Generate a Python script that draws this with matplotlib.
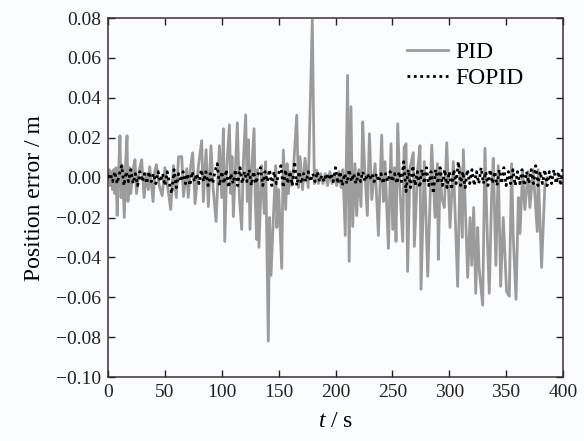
import numpy as np
import matplotlib
matplotlib.use("Agg")
import matplotlib.pyplot as plt

# ---- PID position error (time s, error m) ----
pid_t = [0, 1, 2, 3, 4, 5, 6, 7, 8, 9.5, 10.5, 11.5, 12.5, 14.3, 15.5, 16.7, 17.5, 19, 20,
         22, 23.7, 25, 27.5, 29.6, 31.7, 33.5, 35.4, 36.6, 39.6, 41, 42.5, 45, 47.6, 50, 52.5, 55.1,
         57.5, 60, 62, 64.8, 66.3, 69.2, 70.5, 72.5, 74.4, 76.5, 79.5, 82.3, 83.8, 86.2, 88.2, 90.5,
         92.5, 95, 97.9, 100, 101.4, 102.6, 104.5, 106.7, 108, 109, 110.2, 112, 113.7, 115.5, 117.5,
         119, 121, 122.5, 123.5, 124.8, 126.5, 128.4, 129.5, 130.7, 131.5, 132.7, 135.1, 137.4, 138.6,
         140.9, 142, 143.3, 145.3, 147.4, 148.4, 150, 152.7, 154.1, 156.2, 157.4, 158.5, 160, 161.4,
         163, 165.9, 167.4, 168.8, 171, 173.2, 176, 179.6, 181.4, 183.4, 185, 187, 189, 191, 193, 195,
         197, 199, 201, 203, 205, 206.5, 208.6, 210.6, 212, 213.6, 215.1, 217.1, 218.6, 220.5, 222.4,
         223.9, 225.5, 228, 229.8, 231.9, 234.8, 237.7, 240.6, 242.1, 243.5, 246.5, 248.8, 250.3,
         251.8, 253.2, 254.7, 256.5, 259.1, 260.3, 262, 263.4, 265.5, 268.4, 269.3, 272.2, 274.3,
         275.2, 278.1, 281.1, 284.6, 287.5, 289.6, 290.4, 292, 293.4, 295.7, 297.8, 300.7, 303.6,
         307.4, 309.5, 311.5, 312.4, 316.2, 318.3, 319.8, 321.5, 323.3, 325, 326.2, 329.4, 331.4,
         333.5, 335.2, 337.2, 338.7, 341, 343.1, 345.2, 347.5, 350.4, 352.8, 354.8, 356.3, 358.7,
         360.8, 362.2, 364.5, 366.5, 369.4, 370.9, 373.8, 377.4, 378.2, 381.2, 384, 386]
pid_e = [0.000, 0.004, -0.004, 0.003, -0.006, 0.004, -0.008, 0.005, -0.019, 0.006, 0.021, -0.010, 0.006, -0.020, 0.008, 0.021, -0.012, 0.005, -0.008,
         0.004, 0.009, -0.008, 0.004, 0.009, -0.010, 0.002, -0.006, 0.0055, -0.012, 0.003, 0.0065, -0.004, -0.009, 0.005, -0.005, -0.016,
         0.006, -0.010, 0.0105, 0.0105, -0.0095, 0.0045, -0.010, 0.005, 0.0125, -0.013, 0.006, 0.0185, -0.012, 0.014, -0.0145, 0.016,
         -0.006, -0.022, 0.016, -0.010, 0.0245, -0.032, 0.006, 0.0265, -0.008, 0.0105, -0.0195, 0.005, 0.0275, -0.010, -0.026,
         0.008, 0.0315, -0.012, 0.019, -0.026, 0.006, 0.0245, -0.012, -0.031, 0.004, -0.035, 0.006, -0.018, 0.008,
         -0.082, -0.020, -0.049, -0.021, 0.006, -0.025, -0.006, -0.0455, 0.0138, -0.016, 0.007, -0.008, 0.003, -0.004,
         0.004, 0.0313, -0.005, 0.0105, -0.006, 0.0097, -0.005, 0.079, -0.003, 0.0037, -0.003, 0.002, -0.003, 0.002, -0.004, 0.003,
         -0.003, 0.002, -0.004, 0.003, -0.005, 0.004, -0.029, 0.0513, -0.042, 0.0355, -0.0245, 0.007, -0.019, 0.004, -0.0145,
         0.028, 0.006, -0.019, 0.022, -0.011, 0.007, -0.029, 0.0213, -0.012, 0.008, -0.0355, 0.017, -0.026,
         0.005, -0.032, 0.027, -0.004, -0.032, 0.015, 0.017, -0.047, 0.005, 0.0125, -0.0345, 0.004, 0.016,
         -0.056, 0.008, -0.0495, 0.0163, -0.020, 0.007, -0.041, 0.004, -0.010, -0.015, 0.0175, -0.025, 0.008,
         -0.0545, 0.005, -0.030, 0.014, -0.050, -0.020, -0.044, -0.015, -0.058, -0.025, -0.045, -0.064, 0.0147,
         -0.030, -0.058, -0.010, 0.0097, -0.044, 0.006, -0.0545, -0.020, -0.057, -0.0595, 0.007, -0.030, -0.061,
         -0.010, -0.028, 0.003, -0.016, 0.003, -0.015, 0.004, -0.027, 0.004, -0.045, -0.005, 0.000]

# ---- FOPID position error, sampled every 2 s ----
fopid_t = np.arange(0, 401, 2)
fopid_e = [0.000, 0.002, -0.002, 0.003, -0.003, 0.002, 0.006, -0.004, 0.003, -0.002,
           0.004, -0.003, 0.002, -0.004, 0.003, -0.002, 0.002, -0.003, 0.003, -0.002,
           0.002, -0.003, 0.003, -0.002, 0.002, -0.004, 0.003, -0.003, -0.008, 0.004,
           -0.005, 0.002, -0.002, 0.003, -0.003, 0.002, -0.004, 0.003, -0.002, 0.002,
           -0.003, 0.004, -0.002, 0.003, -0.004, 0.002, -0.003, 0.003, 0.007, -0.004,
           0.003, -0.003, 0.004, -0.005, 0.002, -0.003, 0.004, -0.004, 0.005, -0.003,
           0.003, -0.002, 0.004, -0.004, 0.003, -0.003, 0.002, 0.005, -0.004, 0.003,
           -0.002, 0.004, -0.004, 0.003, -0.003, 0.002, 0.006, -0.005, 0.004, -0.003,
           0.003, -0.004, 0.008, -0.004, 0.003, -0.003, 0.002, -0.002, 0.003, -0.002,
           0.002, -0.002, 0.003, -0.002, 0.001, -0.002, 0.002, -0.001, 0.002, -0.002,
           0.005, -0.003, 0.003, -0.004, 0.002, -0.003, 0.004, -0.002, 0.002, -0.003,
           0.002, -0.002, 0.003, -0.002, 0.002, -0.001, 0.002, -0.002, 0.002, -0.002,
           0.002, -0.003, 0.002, -0.002, 0.003, -0.002, 0.002, -0.003, 0.003, -0.002,
           0.008, -0.007, 0.004, -0.005, 0.006, -0.004, 0.003, -0.005, 0.004, -0.003,
           0.005, -0.004, 0.003, -0.008, 0.004, -0.003, 0.005, -0.004, 0.004, -0.005,
           0.003, -0.006, 0.004, -0.003, 0.008, -0.004, 0.003, -0.005, 0.004, -0.003,
           0.004, -0.004, 0.003, -0.003, 0.005, -0.003, 0.003, -0.004, 0.004, -0.003,
           0.003, -0.004, 0.004, -0.003, 0.005, -0.004, 0.003, -0.003, 0.004, -0.004,
           0.003, -0.003, 0.004, -0.004, 0.003, -0.003, 0.004, -0.003, 0.006, -0.004,
           0.003, -0.003, 0.004, -0.004, 0.003, -0.003, 0.004, -0.003, 0.003, -0.004,
           0.005]

x_ticks = [0, 50, 100, 150, 200, 250, 300, 350, 400]
y_ticks = [-0.10, -0.08, -0.06, -0.04, -0.02, 0.00, 0.02, 0.04, 0.06, 0.08]
series_labels = ["PID", "FOPID"]

plt.rcParams['font.family'] = ['Liberation Serif', 'DejaVu Serif']
plt.rcParams['mathtext.fontset'] = 'custom'
plt.rcParams['mathtext.it'] = 'Liberation Serif:italic'
plt.rcParams['mathtext.rm'] = 'Liberation Serif'

bg = '#fbfcfe'
fig = plt.figure(figsize=(5.84, 4.41), dpi=100, facecolor=bg)
ax = fig.add_axes([0.185, 0.145, 0.779, 0.814], facecolor=bg)

ax.plot(pid_t, pid_e, color='#9b9b9b', lw=2.0, label=series_labels[0], zorder=2)
ax.plot(fopid_t, fopid_e, color='black', lw=2.0, linestyle=(0, (1, 1.3)),
        label=series_labels[1], zorder=3)

ax.set_xlim(0, 400)
ax.set_ylim(-0.10, 0.08)
ax.set_xticks(x_ticks)
ax.set_yticks(y_ticks)
ax.set_xticklabels([str(v) for v in x_ticks])
ax.set_yticklabels(['\u2212%.2f' % abs(v) if v < 0 else '%.2f' % v for v in y_ticks])
ax.tick_params(direction='in', top=True, right=True, length=5, width=1,
               labelsize=14, colors='#222222', pad=5)
for s in ax.spines.values():
    s.set_color('#3a3030')
    s.set_linewidth(1.1)

ax.set_xlabel(r'$t$ / s', fontsize=17, labelpad=7)
ax.set_ylabel('Position error / m', fontsize=17, labelpad=8)

leg = ax.legend(loc='upper left', bbox_to_anchor=((407 - 108) / 455, 0.935), frameon=False,
                borderpad=0, borderaxespad=0,
                fontsize=17, handlelength=1.75, handletextpad=0.3, labelspacing=0.2)

fig.savefig('out.png', dpi=100, facecolor=bg)
